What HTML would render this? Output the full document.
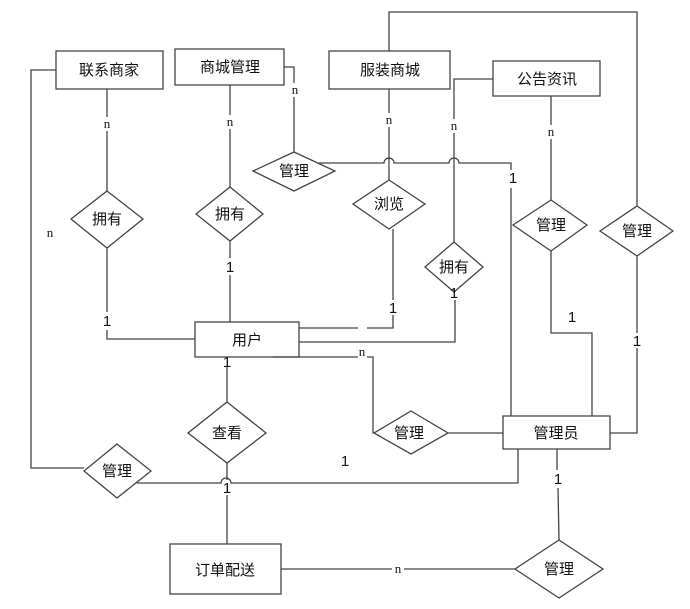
<!DOCTYPE html>
<html><head><meta charset="utf-8"><style>
html,body{margin:0;padding:0;background:#fff}
svg{display:block}
text{font-family:"Liberation Sans","Noto Sans CJK SC",sans-serif;font-size:15px;fill:#111}
.n{font-family:"Liberation Serif",serif;font-size:13px}
.o{font-size:15px}
</style></head><body>
<svg width="690" height="609" viewBox="0 0 690 609" xmlns="http://www.w3.org/2000/svg">
<g fill="none" stroke="#444" stroke-width="1.3">
<rect x="56" y="51" width="107" height="38"/>
<rect x="175" y="49" width="109" height="36"/>
<rect x="329" y="51" width="121" height="38"/>
<rect x="493" y="61" width="107" height="35"/>
<rect x="195" y="322" width="104" height="35"/>
<rect x="503" y="416" width="107" height="33"/>
<rect x="170" y="544" width="111" height="50"/>
<polygon points="107,191 143,219 107,248 71,219"/>
<polygon points="230,187 263,214 230,241 196,214"/>
<polygon points="294,152 335,171 294,191 253,171"/>
<polygon points="389,180 425,204 389,229 353,204"/>
<polygon points="454,242 483,267 454,292 425,267"/>
<polygon points="551,200 587,225 551,251 513,225"/>
<polygon points="637,206 673,231 637,256 600,231"/>
<polygon points="227,402 266,433 227,463 188,433"/>
<polygon points="117,444 151,471 117,498 84,471"/>
<polygon points="411,411 448,433 411,454 374,433"/>
<polygon points="559,540 603,569 559,598 515,569"/>
<polyline points="56,70 31,70 31,468 84,468"/>
<line x1="107" y1="89" x2="107" y2="117"/><line x1="107" y1="131" x2="107" y2="191"/>
<polyline points="107,248 107,312"/><polyline points="107,330 107,339 195,339"/>
<line x1="230" y1="85" x2="230" y2="115"/><line x1="230" y1="129" x2="230" y2="187"/>
<line x1="230" y1="241" x2="230" y2="258"/><line x1="230" y1="275" x2="230" y2="322"/>
<polyline points="284,67 294,67 294,83"/><line x1="294" y1="97" x2="294" y2="152"/>
<path d="M319,163 L384,163 A5,5 0 0 1 394,163 L449,163 A5,5 0 0 1 459,163 L511,163 L511,170"/>
<line x1="511" y1="188" x2="511" y2="416"/>
<line x1="389" y1="89" x2="389" y2="113"/><line x1="389" y1="127" x2="389" y2="180"/>
<polyline points="493,79 454,79 454,119"/><line x1="454" y1="133" x2="454" y2="242"/>
<line x1="551" y1="96" x2="551" y2="125"/><line x1="551" y1="139" x2="551" y2="200"/>
<polyline points="637,206 637,12 389,12 389,51"/>
<polyline points="299,328 358,328"/><polyline points="367,328 393,328 393,315"/><line x1="393" y1="300" x2="393" y2="229"/>
<polyline points="299,342 455,342 455,300"/>
<polyline points="273,357 358,357"/><polyline points="367,357 373,357 373,433 374,433"/>
<line x1="227" y1="367" x2="227" y2="402"/>
<line x1="448" y1="433" x2="503" y2="433"/>
<polyline points="592,416 592,333 551,333 551,251"/>
<polyline points="610,433 637,433 637,348"/><line x1="637" y1="333" x2="637" y2="256"/>
<path d="M518,449 L518,483 L231,483 A5,5 0 0 0 221,483 L137,483"/>
<line x1="227" y1="463" x2="227" y2="480"/><line x1="227" y1="495" x2="227" y2="544"/>
<line x1="557" y1="449" x2="557" y2="470"/><line x1="558" y1="488" x2="559" y2="540"/>
<line x1="281" y1="569" x2="392" y2="569"/><line x1="404" y1="569" x2="515" y2="569"/>
</g>
<g text-anchor="middle">
<text x="109" y="75">联系商家</text>
<text x="230" y="72">商城管理</text>
<text x="390" y="75">服装商城</text>
<text x="547" y="84">公告资讯</text>
<text x="247" y="345">用户</text>
<text x="556" y="438">管理员</text>
<text x="225" y="575">订单配送</text>
<text x="107" y="224">拥有</text>
<text x="230" y="219">拥有</text>
<text x="294" y="176">管理</text>
<text x="389" y="209">浏览</text>
<text x="454" y="272">拥有</text>
<text x="551" y="230">管理</text>
<text x="637" y="236">管理</text>
<text x="227" y="438">查看</text>
<text x="117" y="476">管理</text>
<text x="409" y="438">管理</text>
<text x="559" y="574">管理</text>
<text class="n" x="107" y="128">n</text>
<text class="n" x="230" y="126">n</text>
<text class="n" x="295" y="94">n</text>
<text class="n" x="389" y="124">n</text>
<text class="n" x="454" y="130">n</text>
<text class="n" x="551" y="136">n</text>
<text class="n" x="50" y="237">n</text>
<text class="n" x="362" y="356">n</text>
<text class="n" x="398" y="573">n</text>
<text class="o" x="107" y="326">1</text>
<text class="o" x="230" y="272">1</text>
<text class="o" x="513" y="183">1</text>
<text class="o" x="393" y="313">1</text>
<text class="o" x="454" y="298">1</text>
<text class="o" x="227" y="367">1</text>
<text class="o" x="572" y="322">1</text>
<text class="o" x="637" y="346">1</text>
<text class="o" x="345" y="466">1</text>
<text class="o" x="227" y="493">1</text>
<text class="o" x="558" y="484">1</text>
</g>
</svg>
</body></html>
